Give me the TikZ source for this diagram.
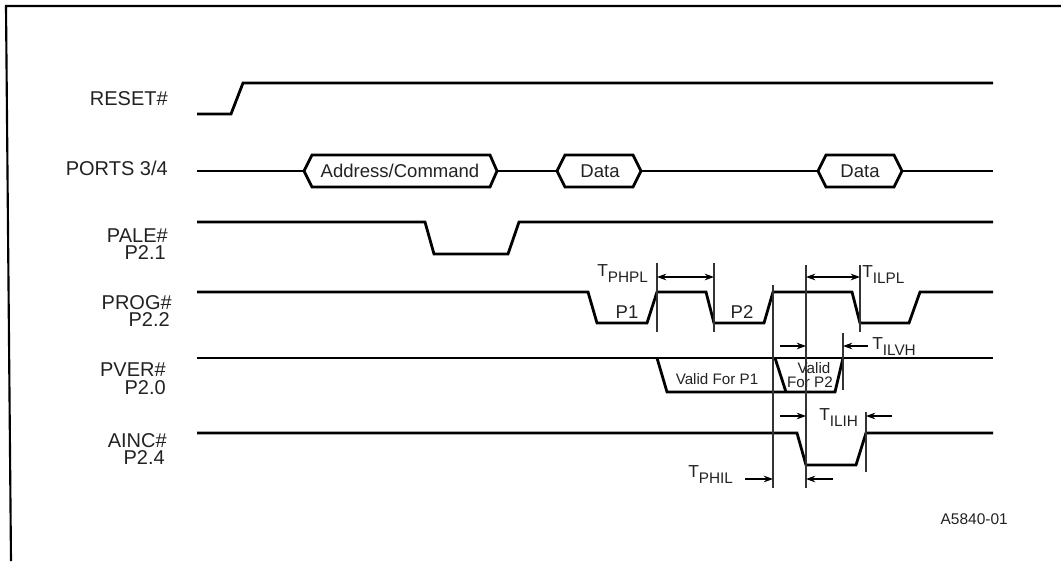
\documentclass[tikz,border=0pt]{standalone}
\usepackage{fontspec}
\setmainfont{Liberation Sans}
\usetikzlibrary{arrows.meta}
\newcommand{\Tlab}[1]{{\fontsize{13}{13}\selectfont T}\raisebox{-4.5pt}{\fontsize{11.5}{11.5}\selectfont #1}}
\definecolor{txt}{HTML}{222222}
\definecolor{vln}{HTML}{333333}
\begin{document}
\begin{tikzpicture}[x=0.75pt,y=-0.75pt,
  frame/.style={line width=1.6pt,black},
  sig/.style={line width=2.1pt,black,line join=miter},
  vline/.style={line width=0.9pt,vln},
  tarrow/.style={line width=0.8pt,black,-{Stealth[length=7pt,width=5pt]}},
  tdarrow/.style={line width=0.8pt,black,{Stealth[length=7pt,width=5pt]}-{Stealth[length=7pt,width=5pt]}},
  lab/.style={inner sep=0pt,text=txt,font=\fontsize{15}{13}\selectfont},
  hexlab/.style={inner sep=0pt,text=txt,font=\fontsize{13.9}{14}\selectfont},
  tlab/.style={inner sep=0pt,text=txt,anchor=base west},
  small/.style={inner sep=0pt,text=txt,font=\fontsize{11.4}{10.5}\selectfont,anchor=base}]
\useasboundingbox (0,0) rectangle (1061,561);
% frame
\draw[frame] (1061,6) -- (6,6) -- (11,561);
% labels
\node[lab,anchor=base east] (reset) at (168,105) {RESET\#};
\node[lab,anchor=base east] (ports) at (168,175) {PORTS 3/4};
\node[lab,anchor=base east] (pale) at (168,242) {PALE\#};
\node[lab,anchor=base east] (pale2) at (166,259) {P2.1};
\node[lab,anchor=base east] (prog) at (172,309) {PROG\#};
\node[lab,anchor=base east] (prog2) at (170,326) {P2.2};
\node[lab,anchor=base east] (pver) at (166,376) {PVER\#};
\node[lab,anchor=base east] (pver2) at (166,394) {P2.0};
\node[lab,anchor=base east] (ainc) at (167,447) {AINC\#};
\node[lab,anchor=base east] (ainc2) at (165,464) {P2.4};
% RESET
\draw[sig] (197,114)--(231,114)--(243,83)--(993,83);
% PORTS
\draw[sig] (197,171)--(304,171);
\draw[sig] (304,171)--(312,155)--(490,155)--(497,171)--(490,187)--(312,187)--cycle;
\draw[sig] (497,171)--(557,171);
\draw[sig] (557,171)--(565,155)--(633,155)--(641,171)--(633,187)--(565,187)--cycle;
\draw[sig] (641,171)--(818,171);
\draw[sig] (818,171)--(826,155)--(894,155)--(902,171)--(894,187)--(826,187)--cycle;
\draw[sig] (902,171)--(993,171);
\node[hexlab,anchor=base] (addr) at (400,177) {Address/Command};
\node[hexlab,anchor=base] (data1) at (600,177) {Data};
\node[hexlab,anchor=base] (data2) at (860,177) {Data};
% PALE
\draw[sig] (197,222)--(425,222)--(434,254)--(508,254)--(519,222)--(993,222);
% PROG
\draw[sig] (197,292)--(588,292)--(597,323)--(647,323)--(657,292)--(706,292)--(714,323)--(764,323)--(773,292)--(852,292)--(860,323)--(909,323)--(920,292)--(993,292);
\node[hexlab,anchor=base] (p1) at (627,318) {P1};
\node[hexlab,anchor=base] (p2) at (742,318) {P2};
% PVER
\draw[sig] (197,358)--(993,358);
\draw[sig] (657,358)--(667,392)--(835,392)--(843,358);
\draw[sig] (775,358)--(786,392);
\node[small] (vp1) at (717,384) {Valid For P1};
\node[small] (vp2a) at (814,373) {Valid};
\node[small] (vp2b) at (810,387) {For P2};
% AINC
\draw[sig] (197,433)--(797,433)--(806,465)--(856,465)--(866,433)--(993,433);
% vertical timing lines
\coordinate (a1) at (657,263); \coordinate (a2) at (657,332);
\coordinate (b1) at (714,263); \coordinate (b2) at (714,332);
\coordinate (c1) at (773,285); \coordinate (c2) at (773,488);
\coordinate (d1) at (806,265); \coordinate (d2) at (806,488);
\coordinate (e1) at (860,265); \coordinate (e2) at (860,332);
\coordinate (f1) at (843,333); \coordinate (f2) at (843,390);
\coordinate (g1) at (866,412); \coordinate (g2) at (866,472);
\foreach \p in {a,b,c,d,e,f,g} \draw[vline] (\p1) -- (\p2);
% TPHPL
\draw[tdarrow] (657,277) -- (714,277);
\node[tlab] (tphpl) at (597,276) {\Tlab{PHPL}};
% TILPL
\draw[tdarrow] (806,277) -- (860,277);
\node[tlab] (tilpl) at (862,277) {\Tlab{ILPL}};
% TILVH
\coordinate (h1) at (780,346); \coordinate (h2) at (806,346);
\coordinate (h3) at (868,346); \coordinate (h4) at (843,346);
\draw[tarrow] (h1) -- (h2);
\draw[tarrow] (h3) -- (h4);
\node[tlab] (tilvh) at (872,349) {\Tlab{ILVH}};
% TILIH
\coordinate (i1) at (780,416); \coordinate (i2) at (806,416);
\coordinate (i3) at (892,416); \coordinate (i4) at (866,416);
\draw[tarrow] (i1) -- (i2);
\draw[tarrow] (i3) -- (i4);
\node[tlab] (tilih) at (819,420) {\Tlab{ILIH}};
% TPHIL
\coordinate (j1) at (745,479); \coordinate (j2) at (773,479);
\coordinate (j3) at (833,479); \coordinate (j4) at (806,479);
\draw[tarrow] (j1) -- (j2);
\draw[tarrow] (j3) -- (j4);
\node[tlab] (tphil) at (688,477) {\Tlab{PHIL}};
% figure id
\node[inner sep=0pt,text=txt,font=\fontsize{11.6}{12}\selectfont,anchor=base east] (fig) at (1008,524) {A5840-01};
\end{tikzpicture}
\end{document}
